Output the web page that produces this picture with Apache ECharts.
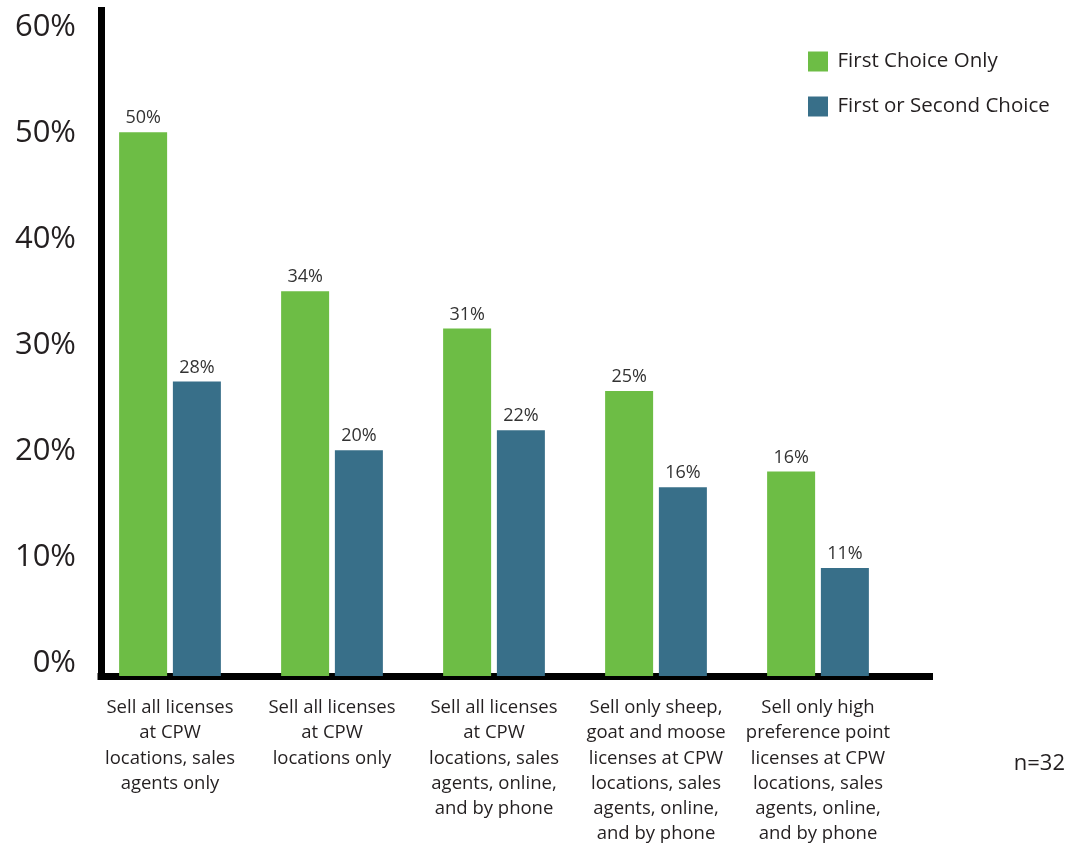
<!DOCTYPE html>
<html>
<head>
<meta charset="utf-8">
<script src="https://cdn.jsdelivr.net/npm/echarts@6/dist/echarts.min.js"></script>
<style>
html,body{margin:0;padding:0;background:#fff;}
#chart{width:1073px;height:848px;}
</style>
</head>
<body>
<div id="chart"></div>
<script>
const categories = [
  'Sell all licenses\nat CPW\nlocations, sales\nagents only',
  'Sell all licenses\nat CPW\nlocations only',
  'Sell all licenses\nat CPW\nlocations, sales\nagents, online,\nand by phone',
  'Sell only sheep,\ngoat and moose\nlicenses at CPW\nlocations, sales\nagents, online,\nand by phone',
  'Sell only high\npreference point\nlicenses at CPW\nlocations, sales\nagents, online,\nand by phone'
];
const seriesNames = ['First Choice Only', 'First or Second Choice'];
// bar heights as drawn (read against the y axis)
const firstChoice = [51.3, 36.3, 32.8, 26.9, 19.3];
const firstOrSecond = [27.8, 21.3, 23.2, 17.8, 10.2];
// printed value labels
const firstChoiceLabels = ['50%', '34%', '31%', '25%', '16%'];
const firstOrSecondLabels = ['28%', '20%', '22%', '16%', '11%'];
const yTicks = [0, 10, 20, 30, 40, 50, 60];
const note = 'n=32';

const FONT = '"Open Sans", sans-serif';
const TXT = '#231f20';
const GREEN = '#6dbd45';
const BLUE = '#386f89';
const YMAX = 62.8;

const chart = echarts.init(document.getElementById('chart'), null, {renderer: 'canvas'});
chart.setOption({
  backgroundColor: '#ffffff',
  animation: false,
  textStyle: {fontFamily: FONT},
  title: {
    text: note, right: 3, top: 748,
    textStyle: {fontFamily: FONT, fontSize: 22, fontWeight: 'normal', color: TXT}
  },
  legend: {
    orient: 'vertical', left: 803, top: 46,
    itemWidth: 20, itemHeight: 20, itemGap: 24, icon: 'rect',
    textStyle: {fontFamily: FONT, fontSize: 20.5, color: TXT, padding: [0, 0, 0, 4.5]},
    data: seriesNames
  },
  grid: [
    {left: 101, right: 143.5, top: 10.5, bottom: 172, containLabel: false},
    {left: 89, width: 810, top: 10.5, bottom: 172, containLabel: false}
  ],
  xAxis: [
    {
      gridIndex: 0, type: 'value', min: 0, max: 1,
      axisLine: {show: true, onZero: false, lineStyle: {color: '#000', width: 7, cap: 'square'}},
      axisTick: {show: false}, axisLabel: {show: false}, splitLine: {show: false}
    },
    {
      gridIndex: 1, type: 'category', data: categories,
      axisLine: {show: false}, axisTick: {show: false}, splitLine: {show: false},
      axisLabel: {
        interval: 0, margin: 19, fontFamily: FONT, fontSize: 18.5, lineHeight: 25.3,
        color: TXT, align: 'center'
      }
    }
  ],
  yAxis: [
    {
      gridIndex: 0, type: 'value', min: 0, max: YMAX, interval: 10,
      axisLine: {show: true, onZero: false, lineStyle: {color: '#000', width: 7, cap: 'square'}},
      axisTick: {show: false}, splitLine: {show: false},
      axisLabel: {
        showMaxLabel: false, margin: 25, fontFamily: FONT, fontSize: 31, color: TXT,
        verticalAlign: 'bottom', lineHeight: 26,
        formatter: function (v) { return yTicks.indexOf(v) >= 0 ? v + '%' : ''; }
      }
    },
    {
      gridIndex: 1, type: 'value', min: 0, max: YMAX, interval: 10, show: false,
      splitLine: {show: false}
    }
  ],
  series: [
    {
      name: seriesNames[0], type: 'bar', xAxisIndex: 1, yAxisIndex: 1,
      data: firstChoice, barWidth: 48, barGap: '12%',
      itemStyle: {color: GREEN},
      label: {
        show: true, position: 'top', distance: 5, fontFamily: FONT, fontSize: 18, color: '#333',
        formatter: function (p) { return firstChoiceLabels[p.dataIndex]; }
      }
    },
    {
      name: seriesNames[1], type: 'bar', xAxisIndex: 1, yAxisIndex: 1,
      data: firstOrSecond, barWidth: 48, barGap: '12%',
      itemStyle: {color: BLUE},
      label: {
        show: true, position: 'top', distance: 5, fontFamily: FONT, fontSize: 18, color: '#333',
        formatter: function (p) { return firstOrSecondLabels[p.dataIndex]; }
      }
    }
  ]
});
</script>
</body>
</html>
